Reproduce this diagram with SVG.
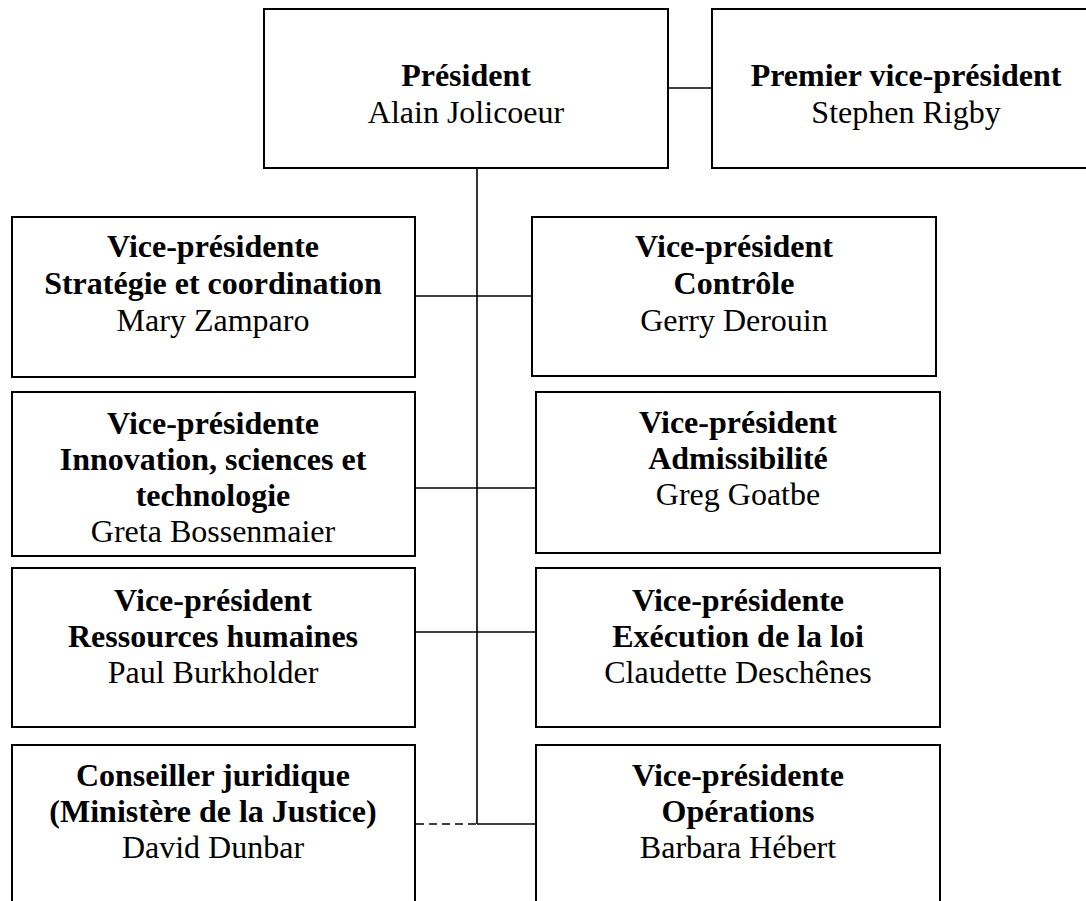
<svg xmlns="http://www.w3.org/2000/svg" width="1086" height="901" viewBox="0 0 1086 901">
<style>
.box{fill:#fff;stroke:#000;stroke-width:2}
.ln{stroke:#000;stroke-width:1.6;fill:none}
.dash{stroke:#000;stroke-width:1.6;fill:none;stroke-dasharray:8,5}
text{font-family:"Liberation Serif","Times New Roman",serif;font-size:32px;text-anchor:middle;fill:#000}
.b{font-weight:bold}
</style>
<rect width="1086" height="901" fill="#fff"/>
<g id="connectors">
<line class="ln" x1="477" y1="168" x2="477" y2="824"/>
<line class="ln" x1="668" y1="88" x2="712" y2="88"/>
<line class="ln" x1="415" y1="296" x2="532" y2="296"/>
<line class="ln" x1="415" y1="488" x2="536" y2="488"/>
<line class="ln" x1="415" y1="632" x2="536" y2="632"/>
<line class="dash" x1="416" y1="824" x2="477" y2="824"/>
<line class="ln" x1="477" y1="824" x2="536" y2="824"/>
</g>
<g id="president">
<rect class="box" x="264" y="9" width="404" height="159"/>
<text x="466" y="86" class="b">Président</text>
<text x="466" y="123">Alain Jolicoeur</text>
</g>
<g id="premier-vp">
<rect class="box" x="712" y="9" width="390" height="159"/>
<text x="906" y="86" class="b">Premier vice-président</text>
<text x="906" y="123">Stephen Rigby</text>
</g>
<g id="strategie">
<rect class="box" x="12" y="217" width="403" height="160"/>
<text x="213" y="257" class="b">Vice-présidente</text>
<text x="213" y="294" class="b">Stratégie et coordination</text>
<text x="213" y="331">Mary Zamparo</text>
</g>
<g id="controle">
<rect class="box" x="532" y="217" width="404" height="159"/>
<text x="734" y="257" class="b">Vice-président</text>
<text x="734" y="294" class="b">Contrôle</text>
<text x="734" y="331">Gerry Derouin</text>
</g>
<g id="innovation">
<rect class="box" x="12" y="392" width="403" height="164"/>
<text x="213" y="434" class="b">Vice-présidente</text>
<text x="213" y="470" class="b">Innovation, sciences et</text>
<text x="213" y="506" class="b">technologie</text>
<text x="213" y="542">Greta Bossenmaier</text>
</g>
<g id="admissibilite">
<rect class="box" x="536" y="392" width="404" height="161"/>
<text x="738" y="433" class="b">Vice-président</text>
<text x="738" y="469" class="b">Admissibilité</text>
<text x="738" y="505">Greg Goatbe</text>
</g>
<g id="rh">
<rect class="box" x="12" y="568" width="403" height="159"/>
<text x="213" y="611" class="b">Vice-président</text>
<text x="213" y="647" class="b">Ressources humaines</text>
<text x="213" y="683">Paul Burkholder</text>
</g>
<g id="execution">
<rect class="box" x="536" y="568" width="404" height="159"/>
<text x="738" y="611" class="b">Vice-présidente</text>
<text x="738" y="647" class="b">Exécution de la loi</text>
<text x="738" y="683">Claudette Deschênes</text>
</g>
<g id="juridique">
<rect class="box" x="12" y="745" width="403" height="170"/>
<text x="213" y="786" class="b">Conseiller juridique</text>
<text x="213" y="822" class="b">(Ministère de la Justice)</text>
<text x="213" y="858">David Dunbar</text>
</g>
<g id="operations">
<rect class="box" x="536" y="745" width="404" height="170"/>
<text x="738" y="786" class="b">Vice-présidente</text>
<text x="738" y="822" class="b">Opérations</text>
<text x="738" y="858">Barbara Hébert</text>
</g>
</svg>
